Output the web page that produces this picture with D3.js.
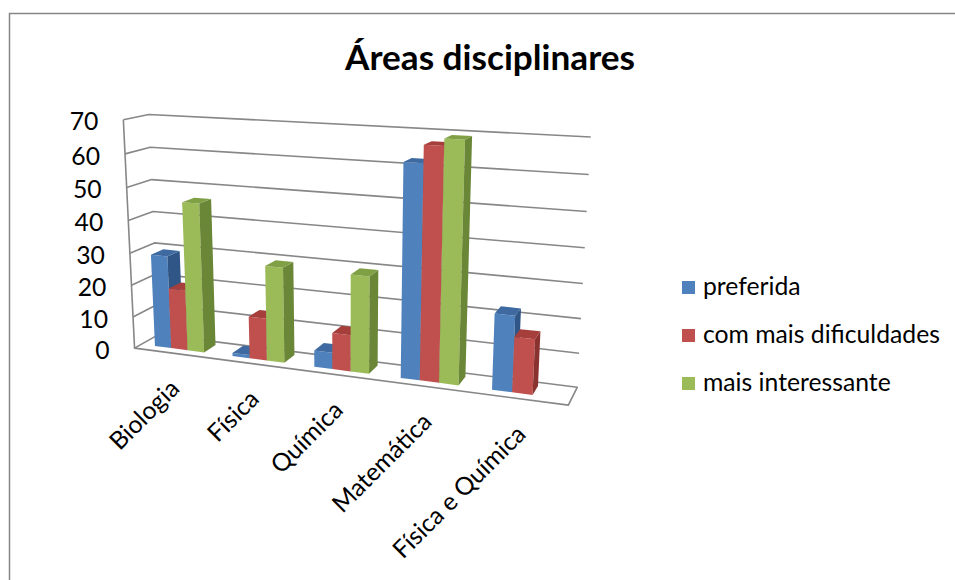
<!DOCTYPE html>
<html>
<head>
<meta charset="utf-8">
<script src="https://cdn.jsdelivr.net/npm/d3@7"></script>
<style>
  html, body { margin: 0; padding: 0; background: #fff; }
  svg { display: block; }
</style>
</head>
<body>
<svg id="chart" width="955" height="580"></svg>
<script>
// ---- data ----
const categories = ["Biologia", "Física", "Química", "Matemática", "Física e Química"];
const seriesNames = ["preferida", "com mais dificuldades", "mais interessante"];
const preferida = [29, 1, 5, 62, 22];
const comMaisDificuldades = [19, 13, 11, 67, 16];
const maisInteressante = [46, 29, 29, 69, null];
const yTicks = [0, 10, 20, 30, 40, 50, 60, 70];
const chartTitle = "Áreas disciplinares";

const seriesValues = [preferida, comMaisDificuldades, maisInteressante];

// ---- styles ----
const seriesColors = [
  { front: "#4F81BD", top: "#3E6AA1", side: "#2F5686" },
  { front: "#C0504D", top: "#A63F3C", side: "#8A3230" },
  { front: "#9BBB59", top: "#80A046", side: "#6A8637" }
];
const gridColor = "#878787";
const fontFamily = "Lato, Carlito, 'Open Sans', sans-serif";

const width = 955, height = 580;
const svg = d3.select("#chart");

// outer frame of the chart area
svg.append("rect")
  .attr("x", 9.5).attr("y", 13.5)
  .attr("width", width + 20).attr("height", height + 20)
  .attr("fill", "#fff").attr("stroke", "#868686").attr("stroke-width", 1.5);

// ---- scales (world space: x across categories, y value, z depth 0=front 1=back) ----
const xBand = d3.scaleBand().domain(categories).range([0, 1]).paddingInner(0.36).paddingOuter(0.18);
const xSeries = d3.scaleBand().domain(seriesNames).range([0, xBand.bandwidth()]);
const yScale = d3.scaleLinear().domain([0, 70]).range([0, 1]);
const zFront = 0.28, zBack = 0.8;

// ---- perspective camera, fitted to the corners of the plot box ----
// [x fraction, value, depth, screen x, screen y]
const boxAnchors = [
  [0, 70, 1, 148.3, 114.7], [0, 60, 1, 151.2, 146.7], [0, 50, 1, 152.3, 179.3], [0, 40, 1, 153.3, 211.7],
  [0, 30, 1, 154.3, 243.3], [0, 20, 1, 155.2, 274.0], [0, 10, 1, 156.5, 305.0],
  [1, 70, 1, 590.0, 136.7], [1, 60, 1, 589.3, 175.0], [1, 50, 1, 586.7, 211.7], [1, 40, 1, 585.0, 247.7],
  [1, 30, 1, 583.3, 283.3], [1, 20, 1, 580.7, 318.3], [1, 10, 1, 579.3, 353.3], [1, 0, 1, 576.7, 386.7],
  [0, 70, 0, 122.3, 120.7], [0, 60, 0, 125.0, 153.3], [0, 50, 0, 126.7, 187.3], [0, 40, 0, 128.3, 220.7],
  [0, 30, 0, 130.5, 253.3], [0, 20, 0, 131.7, 284.3], [0, 10, 0, 133.3, 316.0], [0, 0, 0, 134.5, 349.0],
  [1, 0, 0, 568.3, 405.5], [1, 0, 0, 568.3, 405.5]
];
const cu = 350, cv = 250, cs = 250;

function fitCamera(points) {
  const n = 11;
  const M = Array.from({ length: n }, () => new Array(n + 1).fill(0));
  const addRow = (r, b) => {
    for (let i = 0; i < n; i++) {
      for (let j = 0; j < n; j++) M[i][j] += r[i] * r[j];
      M[i][n] += r[i] * b;
    }
  };
  points.forEach(([xf, val, z, u, v]) => {
    const X = xf, Y = yScale(val), Z = z;
    const U = (u - cu) / cs, V = (v - cv) / cs;
    addRow([X, Y, Z, 1, 0, 0, 0, 0, -U * X, -U * Y, -U * Z], U);
    addRow([0, 0, 0, 0, X, Y, Z, 1, -V * X, -V * Y, -V * Z], V);
  });
  for (let c = 0; c < n; c++) {
    let piv = c;
    for (let r = c + 1; r < n; r++) if (Math.abs(M[r][c]) > Math.abs(M[piv][c])) piv = r;
    [M[c], M[piv]] = [M[piv], M[c]];
    for (let r = 0; r < n; r++) {
      if (r === c) continue;
      const f = M[r][c] / M[c][c];
      for (let k = c; k <= n; k++) M[r][k] -= f * M[c][k];
    }
  }
  return M.map((row, i) => row[n] / row[i]);
}
const P = fitCamera(boxAnchors);

function project(X, Y, Z) {
  const w = P[8] * X + P[9] * Y + P[10] * Z + 1;
  const U = (P[0] * X + P[1] * Y + P[2] * Z + P[3]) / w;
  const V = (P[4] * X + P[5] * Y + P[6] * Z + P[7]) / w;
  return [U * cs + cu, V * cs + cv];
}
const pathOf = pts => "M" + pts.map(p => project(...p).map(d => d.toFixed(2)).join(",")).join("L") + "Z";
const lineOf = pts => "M" + pts.map(p => project(...p).map(d => d.toFixed(2)).join(",")).join("L");

// ---- walls, floor, gridlines ----
const walls = svg.append("g").attr("fill", "none").attr("stroke", gridColor).attr("stroke-width", 1.6)
  .attr("stroke-linejoin", "round");
yTicks.filter(t => t > 0).forEach(t => {
  const y = yScale(t);
  walls.append("path").attr("d", lineOf([[0, y, 0], [0, y, 1], [1, y, 1]]));
});
walls.append("path").attr("fill", "#fff").attr("d", pathOf([[0, 0, 0], [1, 0, 0], [1, 0, 1], [0, 0, 1]]));
walls.append("path").attr("d", lineOf([[0, 0, 0], [0, yScale(70), 0]]));

// ---- bars (drawn left to right so nearer faces overlap farther ones) ----
const bars = svg.append("g");
categories.forEach((cat, i) => {
  seriesNames.forEach((s, j) => {
    const v = seriesValues[j][i];
    if (v == null) return;
    const x0 = xBand(cat) + xSeries(s), x1 = x0 + xSeries.bandwidth();
    const h = yScale(v);
    const col = seriesColors[j];
    bars.append("path").attr("fill", col.front)
      .attr("d", pathOf([[x0, 0, zFront], [x1, 0, zFront], [x1, h, zFront], [x0, h, zFront]]));
    bars.append("path").attr("fill", col.side)
      .attr("d", pathOf([[x1, 0, zFront], [x1, 0, zBack], [x1, h, zBack], [x1, h, zFront]]));
    bars.append("path").attr("fill", col.top)
      .attr("d", pathOf([[x0, h, zFront], [x1, h, zFront], [x1, h, zBack], [x0, h, zBack]]));
  });
});

// ---- text sizing ----
function fitFontSize(text, weight, targetWidth) {
  const t = svg.append("text").attr("font-family", fontFamily).attr("font-weight", weight)
    .attr("font-size", 100).text(text);
  const w = t.node().getComputedTextLength();
  t.remove();
  return 100 * targetWidth / w;
}
const labelSize = fitFontSize("com mais dificuldades", 400, 237);
const titleSize = fitFontSize(chartTitle, 700, 290);

// title
svg.append("text")
  .attr("x", 490).attr("y", 70)
  .attr("text-anchor", "middle")
  .attr("font-family", fontFamily).attr("font-weight", 700).attr("font-size", titleSize)
  .attr("fill", "#000").text(chartTitle);

// value axis labels
const yLabels = svg.append("g").attr("font-family", fontFamily).attr("font-size", labelSize).attr("fill", "#000");
yTicks.forEach(t => {
  const [u, v] = project(0, yScale(t), 0);
  yLabels.append("text").attr("x", u - 25).attr("y", v + 2).attr("dy", "0.35em")
    .attr("text-anchor", "end").text(t);
});

// category labels
const xLabels = svg.append("g").attr("font-family", fontFamily).attr("font-size", labelSize).attr("fill", "#000");
categories.forEach(cat => {
  const [u, v] = project(xBand(cat) + xBand.bandwidth() / 2, 0, 0);
  xLabels.append("text")
    .attr("transform", `translate(${u + 8},${v + 37}) rotate(-45)`)
    .attr("text-anchor", "end").text(cat);
});

// legend
const legendTops = [281, 329, 377];
const legend = svg.append("g").attr("font-family", fontFamily).attr("font-size", labelSize).attr("fill", "#000");
seriesNames.forEach((s, j) => {
  legend.append("rect").attr("x", 682).attr("y", legendTops[j]).attr("width", 13).attr("height", 13)
    .attr("fill", seriesColors[j].front);
  legend.append("text").attr("x", 703).attr("y", legendTops[j] + 14).text(s);
});
</script>
</body>
</html>
